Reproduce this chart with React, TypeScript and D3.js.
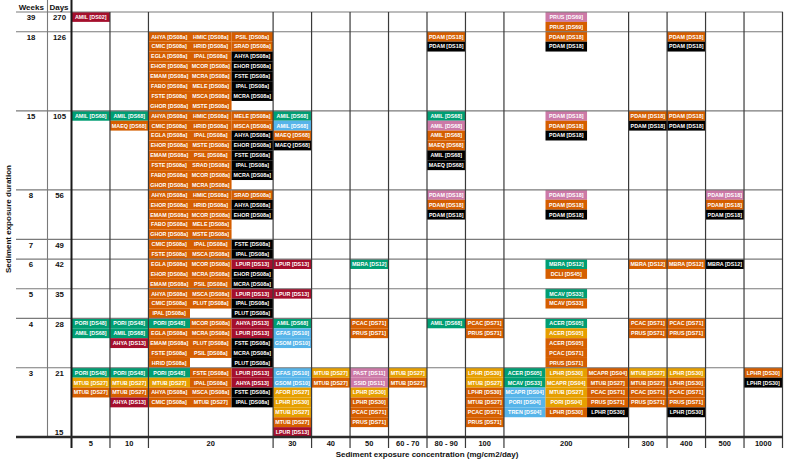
import React from "react";
import * as d3 from "d3";

// ---------- DATA ----------
const weeks = [39, 18, 15, 8, 7, 6, 5, 4, 3];
const days = [270, 126, 105, 56, 49, 42, 35, 28, 21];
const concentrations = ["5", "10", "20", "30", "40", "50", "60 - 70", "80 - 90", "100", "200", "300", "400", "500", "1000"];
const wideConcentrations = ["20", "200"];
const bottomDayLabel = "15";

// [concentration, sub-column, entries "label/colourKey"]
type Stack = [string, number, string[]];

const r39: Stack[] = [
  ["5", 0, ["AMIL [DS02]/R"]],
  ["200", 1, ["PRUS [DS69]/P", "PRUS [DS69]/O"]],
];
const r18: Stack[] = [
  ["20", 0, ["AHYA [DS08a]/O", "CMIC [DS08a]/O", "EGLA [DS08a]/O", "EHOR [DS08a]/O", "EMAM [DS08a]/O", "FABO [DS08a]/O", "FSTE [DS08a]/O", "GHOR [DS08a]/O"]],
  ["20", 1, ["HMIC [DS08a]/O", "HRID [DS08a]/O", "IPAL [DS08a]/O", "MCOR [DS08a]/O", "MCRA [DS08a]/O", "MELE [DS08a]/O", "MSCA [DS08a]/O", "MSTE [DS08a]/O"]],
  ["20", 2, ["PSIL [DS08a]/O", "SRAD [DS08a]/O", "AHYA [DS08a]/K", "EHOR [DS08a]/K", "FSTE [DS08a]/K", "IPAL [DS08a]/K", "MCRA [DS08a]/K"]],
  ["80 - 90", 0, ["PDAM [DS18]/O", "PDAM [DS18]/K"]],
  ["200", 1, ["PDAM [DS18]/O", "PDAM [DS18]/K"]],
  ["400", 0, ["PDAM [DS18]/O", "PDAM [DS18]/K"]],
];
const r15: Stack[] = [
  ["5", 0, ["AMIL [DS68]/G"]],
  ["10", 0, ["AMIL [DS68]/G", "MAEQ [DS68]/O"]],
  ["20", 0, ["AHYA [DS08a]/O", "CMIC [DS08a]/O", "EGLA [DS08a]/O", "EHOR [DS08a]/O", "EMAM [DS08a]/O", "FSTE [DS08a]/O", "FABO [DS08a]/O", "GHOR [DS08a]/O"]],
  ["20", 1, ["HMIC [DS08a]/O", "HRID [DS08a]/O", "IPAL [DS08a]/O", "MSTE [DS08a]/O", "PSIL [DS08a]/O", "SRAD [DS08a]/O", "MCOR [DS08a]/O", "MCRA [DS08a]/O"]],
  ["20", 2, ["MELE [DS08a]/O", "MSCA [DS08a]/O", "AHYA [DS08a]/K", "EHOR [DS08a]/K", "FSTE [DS08a]/K", "IPAL [DS08a]/K", "MCRA [DS08a]/K"]],
  ["30", 0, ["AMIL [DS68]/G", "AMIL [DS68]/B", "MAEQ [DS68]/O", "MAEQ [DS68]/K"]],
  ["80 - 90", 0, ["AMIL [DS68]/G", "AMIL [DS68]/P", "AMIL [DS68]/O", "MAEQ [DS68]/O", "AMIL [DS68]/K", "MAEQ [DS68]/K"]],
  ["200", 1, ["PDAM [DS18]/P", "PDAM [DS18]/O", "PDAM [DS18]/K"]],
  ["300", 0, ["PDAM [DS18]/O", "PDAM [DS18]/K"]],
  ["400", 0, ["PDAM [DS18]/O", "PDAM [DS18]/K"]],
];
const r8: Stack[] = [
  ["20", 0, ["AHYA [DS08a]/O", "EHOR [DS08a]/O", "EMAM [DS08a]/O", "FABO [DS08a]/O", "GHOR [DS08a]/O"]],
  ["20", 1, ["HMIC [DS08a]/O", "HRID [DS08a]/O", "MCOR [DS08a]/O", "MELE [DS08a]/O", "MSTE [DS08a]/O"]],
  ["20", 2, ["SRAD [DS08a]/O", "AHYA [DS08a]/K", "EHOR [DS08a]/K"]],
  ["80 - 90", 0, ["PDAM [DS18]/P", "PDAM [DS18]/O", "PDAM [DS18]/K"]],
  ["200", 1, ["PDAM [DS18]/P", "PDAM [DS18]/O", "PDAM [DS18]/K"]],
  ["500", 0, ["PDAM [DS18]/P", "PDAM [DS18]/O", "PDAM [DS18]/K"]],
];
const r7: Stack[] = [
  ["20", 0, ["CMIC [DS08a]/O", "FSTE [DS08a]/O"]],
  ["20", 1, ["IPAL [DS08a]/O", "MSCA [DS08a]/O"]],
  ["20", 2, ["FSTE [DS08a]/K", "IPAL [DS08a]/K"]],
];
const r6: Stack[] = [
  ["20", 0, ["EGLA [DS08a]/O", "EHOR [DS08a]/O", "EMAM [DS08a]/O"]],
  ["20", 1, ["MCOR [DS08a]/O", "MCRA [DS08a]/O", "PSIL [DS08a]/O"]],
  ["20", 2, ["LPUR [DS13]/R", "EHOR [DS08a]/K", "MCRA [DS08a]/K"]],
  ["30", 0, ["LPUR [DS13]/R"]],
  ["50", 0, ["MBRA [DS12]/G"]],
  ["200", 1, ["MBRA [DS12]/G", "DCLI [DS45]/O"]],
  ["300", 0, ["MBRA [DS12]/O"]],
  ["400", 0, ["MBRA [DS12]/O"]],
  ["500", 0, ["MBRA [DS12]/K"]],
];
const r5: Stack[] = [
  ["20", 0, ["AHYA [DS08a]/O", "CMIC [DS08a]/O", "IPAL [DS08a]/O"]],
  ["20", 1, ["MSCA [DS08a]/O", "PLUT [DS08a]/O"]],
  ["20", 2, ["LPUR [DS13]/R", "IPAL [DS08a]/K", "PLUT [DS08a]/K"]],
  ["30", 0, ["LPUR [DS13]/R"]],
  ["200", 1, ["MCAV [DS33]/G", "MCAV [DS33]/O"]],
];
const r4: Stack[] = [
  ["5", 0, ["PORI [DS48]/G", "AMIL [DS68]/G"]],
  ["10", 0, ["PORI [DS48]/G", "AMIL [DS68]/G", "AHYA [DS13]/R"]],
  ["20", 0, ["PORI [DS48]/G", "EGLA [DS08a]/O", "EMAM [DS08a]/O", "FSTE [DS08a]/O", "HRID [DS08a]/O"]],
  ["20", 1, ["MCOR [DS08a]/O", "MCRA [DS08a]/O", "PLUT [DS08a]/O", "PSIL [DS08a]/O"]],
  ["20", 2, ["AHYA [DS13]/R", "LPUR [DS13]/R", "FSTE [DS08a]/K", "MCRA [DS08a]/K", "PLUT [DS08a]/K"]],
  ["30", 0, ["AMIL [DS68]/G", "GFAS [DS10]/B", "GSOM [DS10]/B"]],
  ["50", 0, ["PCAC [DS71]/O", "PRUS [DS71]/O"]],
  ["80 - 90", 0, ["AMIL [DS68]/G"]],
  ["100", 0, ["PCAC [DS71]/O", "PRUS [DS71]/O"]],
  ["200", 1, ["ACER [DS05]/G", "ACER [DS05]/Y", "ACER [DS05]/O", "PCAC [DS71]/O", "PRUS [DS71]/O"]],
  ["300", 0, ["PCAC [DS71]/O", "PRUS [DS71]/O"]],
  ["400", 0, ["PCAC [DS71]/O", "PRUS [DS71]/O"]],
];
const r3: Stack[] = [
  ["5", 0, ["PORI [DS48]/G", "MTUB [DS27]/Y", "MTUB [DS27]/O"]],
  ["10", 0, ["PORI [DS48]/G", "MTUB [DS27]/Y", "MTUB [DS27]/O", "AHYA [DS13]/R"]],
  ["20", 0, ["PORI [DS48]/G", "MTUB [DS27]/Y", "AHYA [DS08a]/O", "CMIC [DS08a]/O"]],
  ["20", 1, ["FSTE [DS08a]/O", "IPAL [DS08a]/O", "MSCA [DS08a]/O", "MTUB [DS27]/O"]],
  ["20", 2, ["LPUR [DS13]/R", "AHYA [DS13]/R", "FSTE [DS08a]/K", "IPAL [DS08a]/K"]],
  ["30", 0, ["GFAS [DS10]/B", "GSOM [DS10]/B", "AFOR [DS27]/Y", "LPHR [DS30]/Y", "MTUB [DS27]/Y", "MTUB [DS27]/O", "LPUR [DS13]/R"]],
  ["40", 0, ["MTUB [DS27]/Y", "MTUB [DS27]/O"]],
  ["50", 0, ["PAST [DS11]/P", "SSID [DS11]/P", "LPHR [DS30]/Y", "LPHR [DS30]/O", "PCAC [DS71]/O", "PRUS [DS71]/O"]],
  ["60 - 70", 0, ["MTUB [DS27]/Y", "MTUB [DS27]/O"]],
  ["100", 0, ["LPHR [DS30]/Y", "MTUB [DS27]/Y", "LPHR [DS30]/O", "MTUB [DS27]/O", "PCAC [DS71]/O", "PRUS [DS71]/O"]],
  ["200", 0, ["ACER [DS05]/G", "MCAV [DS33]/G", "MCAPR [DS04]/B", "PORI [DS04]/B", "TREN [DS04]/B"]],
  ["200", 1, ["LPHR [DS30]/Y", "MCAPR [DS04]/Y", "MTUB [DS27]/Y", "PORI [DS04]/Y", "LPHR [DS30]/O"]],
  ["200", 2, ["MCAPR [DS04]/O", "MTUB [DS27]/O", "PCAC [DS71]/O", "PRUS [DS71]/O", "LPHR [DS30]/K"]],
  ["300", 0, ["MTUB [DS27]/Y", "MTUB [DS27]/O", "PCAC [DS71]/O", "PRUS [DS71]/O"]],
  ["400", 0, ["LPHR [DS30]/Y", "LPHR [DS30]/O", "PCAC [DS71]/O", "PRUS [DS71]/O", "LPHR [DS30]/K"]],
  ["1000", 0, ["LPHR [DS30]/O", "LPHR [DS30]/K"]],
];
const rowStacks = [r39, r18, r15, r8, r7, r6, r5, r4, r3];

const colourKeys = ["O", "G", "Y", "B", "P", "R", "K"];
const colourValues = ["#D55E00", "#009E73", "#E69F00", "#56B4E9", "#CC79A7", "#A50F2D", "#000000"];

// ---------- CHART ----------
export default function App() {
  const W = 786, H = 461;
  const gridLeft = 16, left = 71.5, right = 782.5, top = 12, bottom = 437, tickEnd = 448;
  const fontFamily = "'Liberation Sans', Arial, Helvetica, sans-serif";

  const colour = d3.scaleOrdinal<string, string>().domain(colourKeys).range(colourValues);

  const weights = concentrations.map((c) => (wideConcentrations.includes(c) ? 3.24 : 1));
  const ends = Array.from(d3.cumsum(weights));
  const starts = [0, ...ends.slice(0, -1)];
  const x = d3.scaleLinear().domain([0, d3.sum(weights)]).range([left, right]);

  const slots = rowStacks.map((r) => d3.max(r, (s) => s[2].length) ?? 1);
  const slotEnds = Array.from(d3.cumsum(slots));
  const slotStarts = [0, ...slotEnds.slice(0, -1)];
  const y = d3.scaleLinear().domain([0, d3.sum(slots)]).range([top, bottom]);

  const cells: { x0: number; x1: number; y0: number; y1: number; label: string; fill: string }[] = [];
  rowStacks.forEach((stacks, ri) => {
    stacks.forEach(([conc, sub, items]) => {
      const ci = concentrations.indexOf(conc);
      const wide = wideConcentrations.includes(conc);
      const unit = wide ? weights[ci] / 3 : weights[ci];
      const x0 = x(starts[ci] + sub * unit);
      const x1 = x(starts[ci] + (sub + 1) * unit);
      items.forEach((entry, i) => {
        const [label, key] = entry.split("/");
        cells.push({
          x0, x1,
          y0: y(slotStarts[ri] + i),
          y1: y(slotStarts[ri] + i + 1),
          label,
          fill: colour(key),
        });
      });
    });
  });

  const rowBounds = [0, ...slotEnds.slice(0, -1)].map((s) => y(s));
  const colBounds = [...ends].map((e) => x(e));

  return (
    <svg width={W} height={H} style={{ position: "absolute", left: 0, top: 0, background: "#fff" }} fontFamily={fontFamily}>
      {/* cells */}
      {cells.map((c, i) => (
        <g key={i}>
          <rect x={c.x0} y={c.y0} width={c.x1 - c.x0} height={c.y1 - c.y0} fill={c.fill} />
          <text x={(c.x0 + c.x1) / 2} y={(c.y0 + c.y1) / 2 + 1.9} fontSize={5.4} fontWeight="bold" fill="#fff" textAnchor="middle">
            {c.label}
          </text>
        </g>
      ))}

      {/* horizontal row lines */}
      {rowBounds.map((yy, i) => (
        <line key={"h" + i} x1={gridLeft} x2={right + 0.5} y1={yy} y2={yy} stroke="#7a7a7a" strokeWidth={1.1} />
      ))}
      {/* vertical lines */}
      <line x1={47.5} x2={47.5} y1={0} y2={bottom} stroke="#7a7a7a" strokeWidth={1.1} />
      {colBounds.map((xx, i) => (
        <line key={"v" + i} x1={xx} x2={xx} y1={top} y2={tickEnd} stroke="#3a3a3a" strokeWidth={1.2} />
      ))}
      <line x1={left} x2={left} y1={0} y2={tickEnd} stroke="#1a1a1a" strokeWidth={2} />
      <line x1={gridLeft} x2={right + 0.5} y1={bottom} y2={bottom} stroke="#2a2a2a" strokeWidth={2.6} />

      {/* header */}
      <text x={31.3} y={10} fontSize={8} fontWeight="bold" textAnchor="middle" fill="#111">Weeks</text>
      <text x={59} y={10} fontSize={8} fontWeight="bold" textAnchor="middle" fill="#111">Days</text>

      {/* row labels */}
      {weeks.map((w, i) => (
        <g key={"r" + i}>
          <text x={31} y={rowBounds[i] + 8.2} fontSize={7.8} fontWeight="bold" textAnchor="middle" fill="#111">{w}</text>
          <text x={59.5} y={rowBounds[i] + 8.2} fontSize={7.8} fontWeight="bold" textAnchor="middle" fill="#111">{days[i]}</text>
        </g>
      ))}
      <text x={59} y={434.5} fontSize={7.8} fontWeight="bold" textAnchor="middle" fill="#111">{bottomDayLabel}</text>

      {/* x tick labels */}
      {concentrations.map((c, i) => (
        <text key={"x" + i} x={(x(starts[i]) + x(ends[i])) / 2} y={445.6} fontSize={7.5} fontWeight="bold" textAnchor="middle" fill="#111">{c}</text>
      ))}

      {/* axis titles */}
      <text x={427} y={456.8} fontSize={8} fontWeight="bold" textAnchor="middle" fill="#111">
        Sediment exposure concentration (mg/cm2/day)
      </text>
      <text transform="translate(11,219) rotate(-90)" fontSize={8} fontWeight="bold" textAnchor="middle" fill="#111">
        Sediment exposure duration
      </text>
    </svg>
  );
}
